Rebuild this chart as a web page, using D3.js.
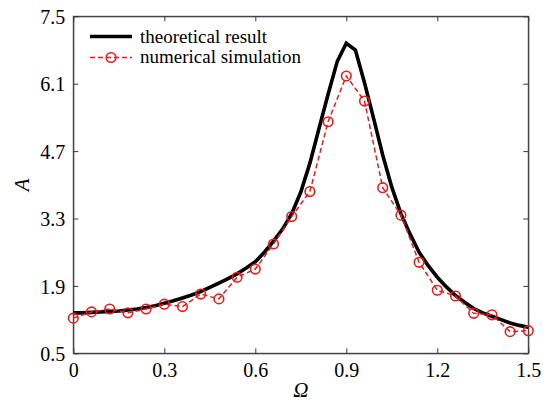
<!DOCTYPE html>
<html><head><meta charset="utf-8">
<script src="https://cdn.jsdelivr.net/npm/d3@7"></script>
<style>
html,body{margin:0;padding:0;background:#fff;}
svg{display:block;}
svg text{font-family:"Liberation Serif","Times New Roman",Times,"DejaVu Serif","Noto Serif",serif !important;}
</style></head>
<body>
<svg id="chart" width="549" height="403"></svg>
<script>
const theoX = [0,0.03,0.06,0.09,0.12,0.15,0.18,0.21,0.24,0.27,0.30,0.33,0.36,0.39,0.42,0.45,0.48,0.51,0.54,0.57,0.60,0.63,0.66,0.69,0.72,0.75,0.78,0.81,0.84,0.87,0.90,0.93,0.96,0.99,1.02,1.05,1.08,1.11,1.14,1.17,1.20,1.23,1.26,1.29,1.32,1.35,1.38,1.41,1.44,1.47,1.50];
const theoY = [1.34,1.34,1.35,1.36,1.37,1.38,1.40,1.42,1.45,1.49,1.54,1.59,1.65,1.71,1.78,1.87,1.96,2.05,2.15,2.27,2.40,2.60,2.83,3.08,3.40,3.85,4.45,5.17,5.88,6.56,6.94,6.80,6.12,5.38,4.62,3.95,3.40,2.98,2.60,2.32,2.08,1.88,1.70,1.56,1.43,1.34,1.27,1.20,1.13,1.08,1.04];
const simX = [0,0.06,0.12,0.18,0.24,0.30,0.36,0.42,0.48,0.54,0.60,0.66,0.72,0.78,0.84,0.90,0.96,1.02,1.08,1.14,1.20,1.26,1.32,1.38,1.44,1.50];
const simY = [1.23,1.36,1.42,1.34,1.42,1.52,1.47,1.73,1.63,2.08,2.25,2.77,3.34,3.86,5.31,6.26,5.74,3.94,3.37,2.39,1.81,1.69,1.33,1.30,0.95,0.97];
const xTicks = [0,0.3,0.6,0.9,1.2,1.5];
const yTicks = [0.5,1.9,3.3,4.7,6.1,7.5];
const seriesNames = ["theoretical result","numerical simulation"];

const FONT = '"Liberation Serif","Times New Roman",Times,"DejaVu Serif","Noto Serif",serif';
const svg = d3.select("#chart").attr("font-family", FONT);
const W = 549, H = 403;
const m = {l:73.3, r:20.7, t:16.3, b:49.7};
const x = d3.scaleLinear().domain([0,1.5]).range([m.l, W-m.r]);
const y = d3.scaleLinear().domain([0.5,7.5]).range([H-m.b, m.t]);
const axisColor = "#3a3a3a";
const red = "#f01818";

// frame
svg.append("rect").attr("x",x(0)).attr("y",y(7.5)).attr("width",x(1.5)-x(0)).attr("height",y(0.5)-y(7.5))
  .attr("fill","none").attr("stroke",axisColor).attr("stroke-width",1);

// axes with inward ticks
const tl = 5;
const gB = svg.append("g").attr("transform",`translate(0,${y(0.5)})`)
  .call(d3.axisBottom(x).tickValues(xTicks).tickSizeInner(-tl).tickSizeOuter(0).tickPadding(10).tickFormat(d=>String(d)));
const gT = svg.append("g").attr("transform",`translate(0,${y(7.5)})`)
  .call(d3.axisTop(x).tickValues(xTicks).tickSizeInner(-tl).tickSizeOuter(0).tickFormat(""));
const gL = svg.append("g").attr("transform",`translate(${x(0)},0)`)
  .call(d3.axisLeft(y).tickValues(yTicks).tickSizeInner(-tl).tickSizeOuter(0).tickPadding(8).tickFormat(d3.format(".1f")));
const gR = svg.append("g").attr("transform",`translate(${x(1.5)},0)`)
  .call(d3.axisRight(y).tickValues(yTicks).tickSizeInner(-tl).tickSizeOuter(0).tickFormat(""));
[gB,gT,gL,gR].forEach(g=>{
  g.attr("font-family", FONT).attr("font-size", 20);
  g.select(".domain").attr("stroke",axisColor);
  g.selectAll(".tick line").attr("stroke",axisColor);
  g.selectAll("text").attr("fill","#000");
});
gB.selectAll("text").attr("dy","0.71em");
gL.selectAll("text").attr("dy","0.36em");

// theoretical line
const lineT = d3.line().x((d,i)=>x(theoX[i])).y(d=>y(d));
svg.append("path").datum(theoY).attr("d",lineT).attr("fill","none").attr("stroke","#000")
  .attr("stroke-width",3.6).attr("stroke-linejoin","miter");

// simulation line
const lineS = d3.line().x((d,i)=>x(simX[i])).y(d=>y(d));
svg.append("path").datum(simY).attr("d",lineS).attr("fill","none").attr("stroke",red)
  .attr("stroke-width",1.5).attr("stroke-dasharray","5,3");
svg.selectAll("circle.sim").data(simY).enter().append("circle").attr("class","sim")
  .attr("cx",(d,i)=>x(simX[i])).attr("cy",d=>y(d)).attr("r",4.8)
  .attr("fill","none").attr("stroke",red).attr("stroke-width",1.6);

// legend
const lg = svg.append("g").attr("font-size",19);
lg.append("line").attr("x1",90).attr("x2",132).attr("y1",36.5).attr("y2",36.5).attr("stroke","#000").attr("stroke-width",3.6);
lg.append("text").attr("x",140).attr("y",42.5).text(seriesNames[0]);
lg.append("line").attr("x1",90).attr("x2",132).attr("y1",57.5).attr("y2",57.5).attr("stroke",red).attr("stroke-width",1.5).attr("stroke-dasharray","5,3");
lg.append("circle").attr("cx",111).attr("cy",57.5).attr("r",4.8).attr("fill","none").attr("stroke",red).attr("stroke-width",1.6);
lg.append("text").attr("x",140).attr("y",63).text(seriesNames[1]);

// axis titles
svg.append("text").attr("x",(x(0)+x(1.5))/2).attr("y",397).attr("text-anchor","middle")
  .attr("font-size",21).attr("font-style","italic").text("Ω");
svg.append("text").attr("transform",`translate(29,${(y(0.5)+y(7.5))/2}) rotate(-90)`).attr("text-anchor","middle")
  .attr("font-size",21).attr("font-style","italic").text("A");
</script>
</body></html>
